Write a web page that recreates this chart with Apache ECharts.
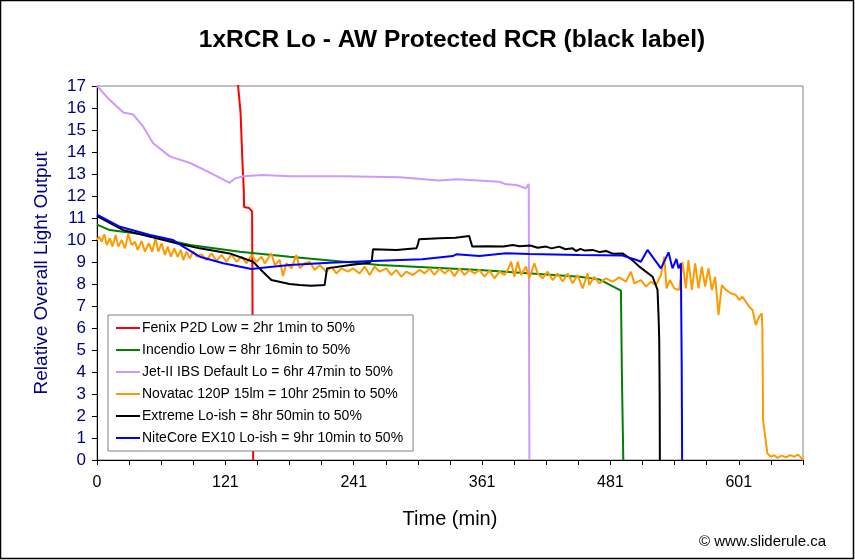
<!DOCTYPE html>
<html>
<head>
<meta charset="utf-8">
<script src="https://cdn.jsdelivr.net/npm/echarts@6/dist/echarts.min.js"></script>
<style>
html,body{margin:0;padding:0;background:#fff;}
#chart{width:855px;height:560px;}
</style>
</head>
<body>
<div id="chart"></div>
<script>
var seriesNames = [
  'Fenix P2D Low = 2hr 1min to 50%',
  'Incendio Low = 8hr 16min to 50%',
  'Jet-II IBS Default Lo = 6hr 47min to 50%',
  'Novatac 120P 15lm = 10hr 25min to 50%',
  'Extreme Lo-ish = 8hr 50min to 50%',
  'NiteCore EX10 Lo-ish = 9hr 10min to 50%'
];
var seriesColors = ['#FF0000', '#008000', '#CC99FF', '#FF9900', '#000000', '#0000FF'];

var xTickValues = [0, 120, 240, 360, 480, 600];
var xTickLabels = ['0', '121', '241', '361', '481', '601'];

var fenix = [[130,18],[131.9,17],[134.2,15.8],[136,13.5],[137.2,12.3],[137.5,11.5],[142.2,11.45],[145,11.3],[145.6,11.22],[146,0]];

var incendio = [[0,10.7],[1.2,10.68],[12,10.45],[40,10.27],[87,9.77],[133.5,9.47],[180,9.24],[264,8.86],[357.6,8.64],[451,8.33],[469.6,8.21],[489.8,7.7],[490.7,3.86],[492,0]];

var jet = [[0,17.0],[1.2,16.95],[12,16.36],[24.6,15.8],[33.9,15.7],[43.2,15.15],[52.5,14.4],[68,13.8],[87,13.5],[105.5,13.06],[124,12.6],[129,12.8],[137,12.9],[155,12.95],[180,12.9],[230,12.9],[283,12.85],[320,12.7],[336,12.76],[376,12.65],[382.5,12.53],[392,12.5],[401,12.35],[403.6,12.55],[404.2,0]];

var novatac = [[0,10.0],[1.9,10.15],[4.4,9.92],[6.8,10.26],[9.1,9.77],[12.1,10.08],[14.3,9.7],[17.5,10.23],[19.9,9.7],[23.1,10.0],[26.1,9.62],[29.2,10.26],[32.4,9.77],[35.5,9.92],[38.0,9.55],[41.7,9.95],[44.8,9.47],[48.5,9.85],[51.6,9.47],[54.8,10.08],[57.2,9.47],[60.4,9.85],[63.5,9.32],[66.0,9.7],[69.1,9.24],[72.2,9.62],[75.3,9.24],[78.4,9.55],[80.6,9.09],[83.7,9.47],[86.8,9.17],[89.9,9.47],[93.1,9.24],[97.7,9.35],[102.4,9.09],[107.1,9.39],[111.7,9.05],[116.4,9.32],[121.1,9.01],[125.7,9.35],[130.4,9.01],[135.1,9.24],[139.8,8.94],[144.4,9.32],[149.1,9.01],[153.8,9.24],[156.8,8.94],[163.1,9.39],[166.2,8.86],[170.8,9.09],[173.9,8.36],[177.1,8.94],[181.8,8.71],[186.4,9.32],[189.5,8.71],[194.2,8.94],[198.8,9.01],[203.5,8.64],[208.2,8.86],[214.4,8.56],[219.1,8.79],[223.8,8.48],[228.4,8.71],[234.6,8.56],[239.3,8.71],[245.5,8.48],[250.2,8.79],[254.9,8.41],[259.5,8.79],[264.2,8.56],[270.4,8.71],[275.1,8.41],[279.8,8.64],[284.4,8.33],[289.1,8.56],[295.3,8.41],[301.5,8.64],[306.2,8.48],[310.9,8.71],[315.5,8.41],[320.2,8.71],[324.9,8.48],[329.6,8.67],[334.2,8.36],[338.9,8.71],[343.5,8.41],[348.2,8.64],[352.9,8.48],[357.5,8.64],[362.2,8.33],[366.9,8.61],[371.6,8.26],[376.2,8.56],[380.9,8.41],[384.0,8.64],[387.1,9.01],[390.2,8.33],[393.3,9.01],[396.5,8.41],[401.1,8.79],[404.2,8.26],[408.9,8.94],[412.0,8.48],[416.6,8.26],[421.3,8.56],[426.0,8.18],[430.7,8.48],[435.3,8.11],[440.0,8.48],[444.7,8.03],[449.3,8.41],[454.0,7.8],[458.7,8.48],[460.2,7.95],[464.9,8.33],[469.6,8.03],[475.8,8.26],[482.0,8.11],[488.2,8.3],[494.5,8.11],[499.2,8.56],[502.2,8.03],[508.5,8.18],[513.2,7.88],[517.8,8.11],[522.5,7.95],[527.2,8.41],[530.3,9.24],[532.5,7.8],[535.6,8.18],[539.6,7.8],[544.3,7.73],[547.3,9.01],[550.5,7.8],[552.9,9.09],[556.1,7.73],[559.2,8.94],[562.3,7.8],[565.4,8.79],[568.5,7.88],[571.6,8.71],[574.8,7.73],[577.9,8.33],[581.0,6.59],[584.1,7.95],[587.9,7.73],[592.5,7.58],[597.2,7.5],[600.3,7.27],[603.4,7.42],[606.5,7.2],[609.6,6.97],[612.8,6.82],[615.9,6.14],[619.0,6.52],[621.5,6.67],[622.0,6.0],[622.2,4.85],[622.7,1.8],[626.7,0.3],[630,0.15],[633,0.22],[636,0.1],[640,0.2],[644,0.12],[648,0.22],[652,0.15],[655,0.25],[658,0.12],[660,0.0]];

var extreme = [[0,11.08],[1.2,11.06],[24.6,10.45],[55.7,10.08],[74.4,9.85],[96,9.62],[124,9.39],[146,9.01],[155,8.56],[163,8.18],[180,8.0],[189.5,7.95],[200,7.92],[212.8,7.95],[214,8.0],[215,8.71],[235,8.85],[255,8.97],[257,9.1],[258,9.58],[280,9.55],[298.5,9.62],[300,9.8],[301,10.03],[320,10.08],[335,10.1],[348,10.18],[349,10.0],[350.8,9.7],[365,9.72],[380,9.7],[388.6,9.77],[395,9.72],[405,9.75],[412,9.65],[419.8,9.7],[425,9.62],[432,9.7],[438,9.58],[444.6,9.62],[447.8,9.5],[452,9.6],[456,9.52],[463.3,9.55],[470,9.45],[476,9.5],[482,9.38],[491.3,9.39],[500,9.1],[507,8.79],[519.4,8.33],[524,7.73],[525,6.5],[525.6,5.45],[526,3],[526.2,0]];

var nitecore = [[0,11.15],[1.2,11.14],[21.5,10.6],[49.5,10.23],[71.2,10.0],[80.6,9.7],[96,9.24],[118,8.94],[144.4,8.68],[155,8.74],[180,8.86],[217.5,8.97],[258,9.05],[304,9.12],[332.6,9.27],[335.8,9.35],[357.5,9.27],[382.5,9.4],[404,9.36],[451,9.32],[491.3,9.29],[503.8,9.1],[508.5,9.01],[514.6,9.55],[527.2,8.71],[534.3,9.44],[538,8.71],[541.7,9.14],[543.6,8.71],[545.8,8.94],[546.6,4.4],[547,0]];

var allData = [fenix, incendio, jet, novatac, extreme, nitecore];

var chart = echarts.init(document.getElementById('chart'));
var FONT = '"Liberation Sans", Arial, sans-serif';

var series = allData.map(function (d, i) {
  return {
    name: seriesNames[i],
    type: 'line',
    data: d,
    showSymbol: false,
    symbol: 'none',
    clip: true,
    animation: false,
    lineStyle: { color: seriesColors[i], width: 2 },
    itemStyle: { color: seriesColors[i] }
  };
});

chart.setOption({
  animation: false,
  backgroundColor: '#ffffff',
  title: {
    text: '1xRCR Lo - AW Protected RCR (black label)',
    left: 447,
    top: 23,
    textAlign: 'center',
    textStyle: { fontFamily: FONT, fontSize: 24.5, fontWeight: 'bold', color: '#000' }
  },
  legend: {
    orient: 'vertical',
    left: 108,
    top: 315,
    backgroundColor: '#ffffff',
    borderColor: '#808080',
    borderWidth: 1,
    padding: [5, 10, 5, 8],
    itemGap: 6,
    itemWidth: 24,
    itemHeight: 2,
    icon: 'rect',
    data: seriesNames,
    textStyle: { fontFamily: FONT, fontSize: 14, lineHeight: 16, color: '#000', padding: [0, 0, 0, -3] }
  },
  grid: {
    left: 97, right: 52, top: 86, bottom: 100,
    show: true, borderColor: '#808080', borderWidth: 1, backgroundColor: '#ffffff'
  },
  xAxis: {
    type: 'value',
    min: 0, max: 660, interval: 30,
    name: 'Time (min)',
    nameLocation: 'middle',
    nameGap: 49,
    nameTextStyle: { fontFamily: FONT, fontSize: 20, color: '#000' },
    axisLine: { show: true, lineStyle: { color: '#000', width: 1 } },
    axisTick: { show: true, length: 5, lineStyle: { color: '#000' } },
    splitLine: { show: false },
    axisLabel: {
      fontFamily: FONT, fontSize: 16, color: '#000', margin: 15,
      showMinLabel: true, showMaxLabel: true,
      formatter: function (v) {
        var k = xTickValues.indexOf(v);
        return k >= 0 ? xTickLabels[k] : '';
      }
    }
  },
  yAxis: {
    type: 'value',
    min: 0, max: 17, interval: 1,
    name: 'Relative Overall Light Output',
    nameLocation: 'middle',
    nameGap: 46,
    nameTextStyle: { fontFamily: FONT, fontSize: 19, color: '#000080' },
    axisLine: { show: true, lineStyle: { color: '#000', width: 1 } },
    axisTick: { show: true, length: 5, lineStyle: { color: '#000' } },
    splitLine: { show: false },
    axisLabel: { fontFamily: FONT, fontSize: 17, color: '#000080', margin: 11 }
  },
  graphic: [
    {
      type: 'rect',
      shape: { x: 0.5, y: 0.5, width: 853, height: 558 },
      style: { fill: 'none', stroke: '#000', lineWidth: 1.5 },
      silent: true
    },
    {
      type: 'text',
      right: 29,
      top: 534,
      style: { text: '© www.sliderule.ca', font: '15px "Liberation Sans", Arial, sans-serif', fill: '#000' }
    }
  ],
  series: series
});
</script>
</body>
</html>
